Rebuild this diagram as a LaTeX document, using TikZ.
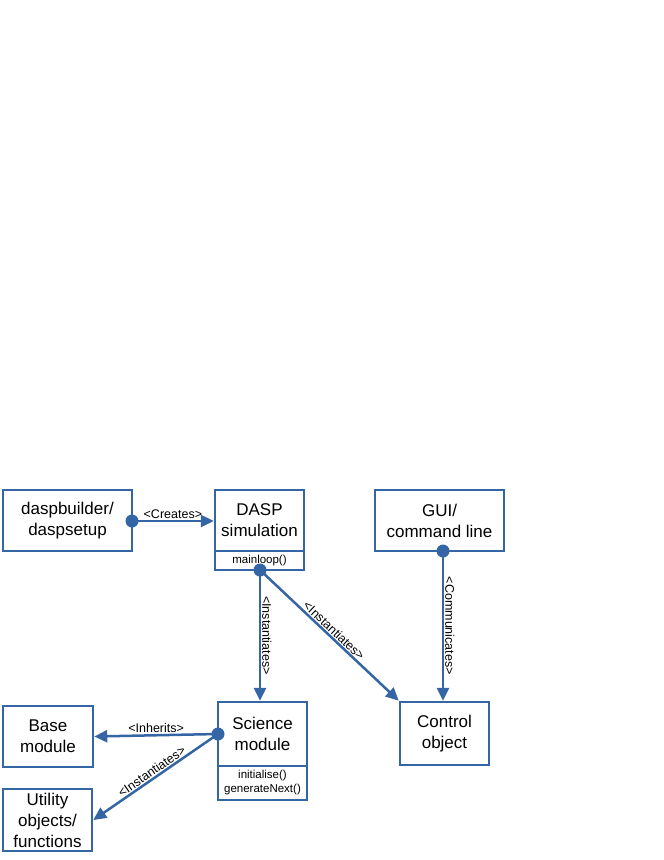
\documentclass[tikz,border=0pt]{standalone}
\usepackage{fontspec}
\setmainfont{Liberation Sans}
\usetikzlibrary{arrows.meta, positioning}
\definecolor{umlblue}{HTML}{3465A4}
\tikzset{
	box/.style = {rectangle, draw=umlblue, line width=2.5pt, fill=white, align=center, font=\fontsize{17}{21}\selectfont, inner sep=0pt},
	op/.style = {rectangle, draw=umlblue, line width=2.5pt, fill=white, align=center, font=\fontsize{11.5}{14}\selectfont, inner sep=0pt},
	line/.style = {draw=umlblue, line width=2.5pt, -{Triangle[length=13pt,width=12pt]}},
	dot/.style = {circle, fill=umlblue, inner sep=0pt, minimum size=13pt},
	tag/.style = {font=\fontsize{12.5}{14}\selectfont, inner sep=1pt}
}
\begin{document}
\begin{tikzpicture}[x=1pt, y=1pt]
	\useasboundingbox (0,-860) rectangle (664,0);

	\node[box, minimum width=129pt, minimum height=61pt] (builder) at (67.5,-520.5) {daspbuilder/\\daspsetup};
	\node[box, minimum width=89pt, minimum height=61pt] (dasp) at (259.5,-520.5) {DASP\\simulation};
	\node[op, minimum width=89pt, minimum height=19pt] (mainloop) at (259.5,-560.5) {mainloop()};
	\node[box, minimum width=129pt, minimum height=61pt] (gui) at (439.5,-520.5) {GUI/\\command line};

	\node[box, minimum width=89pt, minimum height=64pt] (science) at (262.5,-734) {Science\\module};
	\node[op, minimum width=89pt, minimum height=34pt] (sciops) at (262.5,-783) {initialise()\\generateNext()};
	\node[box, minimum width=90pt, minimum height=61pt] (base) at (48,-736.5) {Base\\module};
	\node[box, minimum width=89pt, minimum height=62pt] (utility) at (47.5,-820) {Utility\\objects/\\functions};
	\node[box, minimum width=89pt, minimum height=63pt] (control) at (444.5,-733.5) {Control\\object};

	\node[dot] (d1) at (132,-521) {};
	\node[dot] (d2) at (260,-570) {};
	\node[dot] (d3) at (443,-551) {};
	\node[dot] (d4) at (218,-734) {};

	\path [line] (d1.center) -- (dasp.west |- d1) node[tag, midway, above] {<Creates>};
	\path [line] (d2.center) -- (d2 |- science.north) node[tag, midway, sloped, above] {<Instantiates>};
	\path [line] (d2.center) -- (control.north west) node[tag, midway, sloped, above] {<Instantiates>};
	\path [line] (d3.center) -- (d3 |- control.north) node[tag, midway, sloped, above] {<Communicates>};
	\path [line] (d4.center) -- (base.east) node[tag, midway, above] {<Inherits>};
	\path [line] (d4.center) -- (utility.east) node[tag, midway, sloped, above] {<Instantiates>};
\end{tikzpicture}
\end{document}
